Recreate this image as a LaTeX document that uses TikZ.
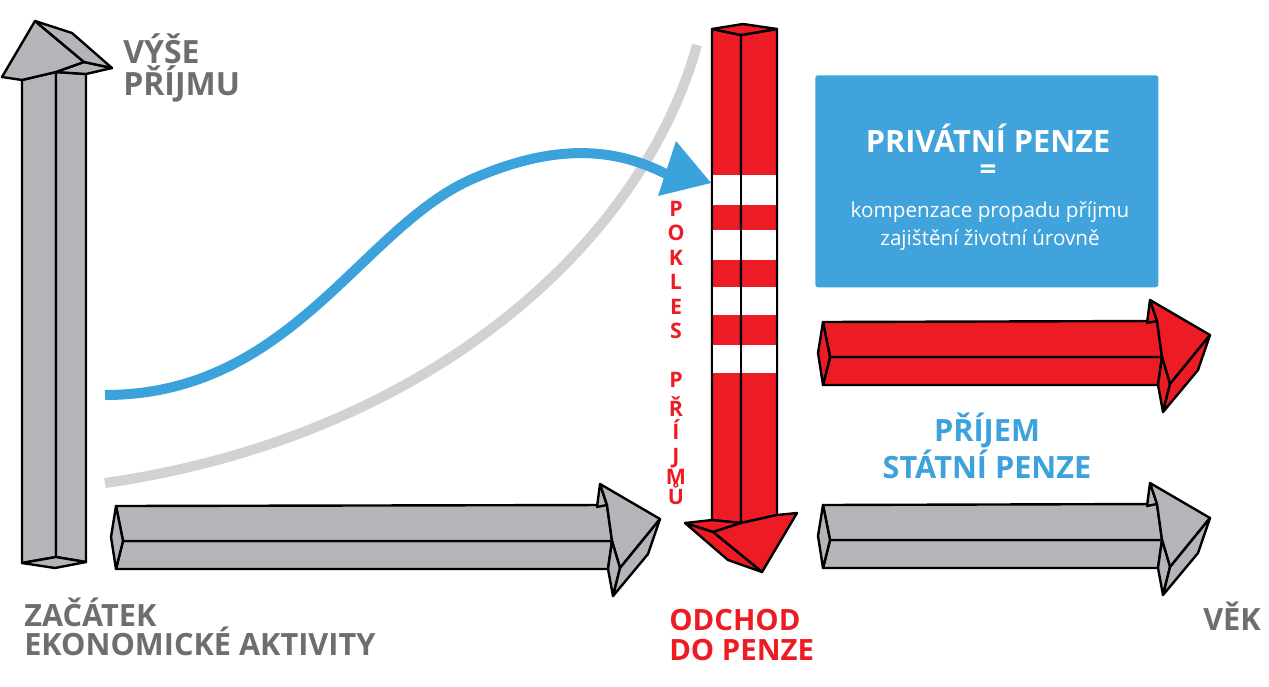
\documentclass[tikz,border=0pt]{standalone}
\usepackage{fontspec}
\setmainfont{Open Sans}
\definecolor{arrgray}{HTML}{B3B5B8}
\definecolor{myred}{HTML}{ED1C24}
\definecolor{myblue}{HTML}{3CA2DC}
\definecolor{boxblue}{HTML}{40A3DB}
\definecolor{txtgray}{HTML}{6D6E71}
\definecolor{curvegray}{HTML}{D1D2D4}
\newcommand\boxarrowR[4]{%
  \path[face=#4] (#1+12,#3+22) -- (#2-48,#3+22) -- (#2-52,#3+50) -- (#1+5,#3+50) -- cycle;
  \path[face=#4] (#1+5,#3-13) -- (#2-53,#3-14) -- (#2-48,#3+22) -- (#1+12,#3+22) -- cycle;
  \path[face=#4] (#1+5,#3-13) -- (#1,#3+18) -- (#1+5,#3+50) -- (#1+12,#3+22) -- cycle;
  \path[face=#4] (#2-63,#3-12) -- (#2-60,#3-35) -- (#2-53,#3-14) -- cycle;
  \path[face=#4] (#2-53,#3-14) -- (#2-60,#3-35) -- (#2,#3) -- (#2-40,#3+49) -- (#2-48,#3+22) -- cycle;
  \path[face=#4] (#2-48,#3+22) -- (#2-40,#3+49) -- (#2-47,#3+77) -- (#2-52,#3+50) -- cycle;
  \path[face=#4] (#2-40,#3+49) -- (#2,#3) -- (#2-12,#3+35) -- (#2-47,#3+77) -- cycle;
}
\begin{document}
\begin{tikzpicture}[x=0.75pt,y=-0.75pt,
  face/.style={fill=#1,draw=black,line width=1.8pt,line join=round},
  lblgray/.style={text=txtgray,font=\bfseries\fontsize{23}{21.75}\selectfont,inner sep=0pt,align=left},
  lblred/.style={text=myred,font=\bfseries\fontsize{22}{22.5}\selectfont,inner sep=0pt,align=left},
  lblblue/.style={text=myblue,font=\bfseries\fontsize{23}{22.5}\selectfont,inner sep=0pt,align=center},
  vlet/.style={text=myred,font=\bfseries\fontsize{16}{16}\selectfont,inner sep=0pt,anchor=base},
  boxtxt/.style={text=white,inner sep=0pt,anchor=base}]
\useasboundingbox[fill=white] (0,0) rectangle (1269,686);

% curves
\coordinate (g0) at (105,483);
\coordinate (g1) at (697,45);
\draw[curvegray,line width=7.5pt] (g0) .. controls (420,438) and (640,250) .. (g1);
\coordinate (b0) at (105,395);
\coordinate (bm) at (470,180);
\coordinate (b1) at (668,175);
\draw[myblue,line width=7.5pt] (b0) .. controls (290,395) and (360,230) .. (bm) .. controls (560,140) and (620,150) .. (b1);
\coordinate (btip) at (711,183);
\fill[myblue] (btip) -- (676,141) -- (658,196) -- cycle;

% vertical gray arrow
\path[face=arrgray] (22,80) -- (22,563) -- (56,557) -- (56,72) -- cycle;
\path[face=arrgray] (56,72) -- (56,557) -- (86,562) -- (86,74) -- cycle;
\path[face=arrgray] (22,563) -- (56,557) -- (86,562) -- (55,568) -- cycle;
\path[face=arrgray] (56,72) -- (84,62) -- (112,68) -- (86,74) -- cycle;
\path[face=arrgray] (35,21) -- (2,77) -- (22,80) -- (56,72) -- (84,62) -- cycle;
\path[face=arrgray] (35,21) -- (72,33) -- (112,68) -- (84,62) -- cycle;

% horizontal arrows
\boxarrowR{111}{660}{519}{arrgray}
\boxarrowR{818}{1210}{518}{arrgray}
\boxarrowR{818}{1210}{335}{myred}

% red down arrow
\path[face=myred] (712,29) -- (741,35) -- (741,523) -- (712,520) -- cycle;
\path[face=myred] (741,35) -- (777,29) -- (777,515) -- (741,523) -- cycle;
\fill[white] (713,175) rectangle (776,205);
\fill[white] (713,230) rectangle (776,260);
\fill[white] (713,287) rectangle (776,315);
\fill[white] (713,345) rectangle (776,373);
\draw[line width=1.8pt] (712,160) -- (712,390) (741,160) -- (741,390) (777,160) -- (777,390);
\path[face=myred] (712,29) -- (743,24) -- (777,29) -- (741,35) -- cycle;
\path[face=myred] (685,523) -- (712,520) -- (741,523) -- (713,532) -- cycle;
\path[face=myred] (713,532) -- (741,523) -- (777,515) -- (797,513) -- (762,572) -- cycle;
\path[face=myred] (685,523) -- (713,532) -- (762,572) -- (728,560) -- cycle;

% vertical text
\foreach \ch/\yy [count=\i] in {P/216,O/240.5,K/265,L/289.5,E/314,S/338.5,P/387,Ř/416,Í/439,J/463,M/484,Ů/504}
  \node[vlet] (v\i) at (676,\yy) {\ch};

% labels
\node[lblgray,anchor=base west,font=\bfseries\fontsize{24}{24}\selectfont] (ylab) at (123,95) {VÝŠE\\PŘÍJMU};
\node[lblgray,anchor=base west] (start) at (24,655) {ZAČÁTEK\\EKONOMICKÉ AKTIVITY};
\node[lblred,anchor=base west] (retire) at (669,660) {ODCHOD\\DO PENZE};
\node[lblgray,anchor=base west,font=\bfseries\fontsize{23}{23}\selectfont] (age) at (1203,630) {VĚK};
\node[lblblue,anchor=base] (state) at (987,478) {PŘÍJEM\\STÁTNÍ PENZE};

% box
\node[fill=boxblue,rounded corners=2pt,minimum width=257.25pt,minimum height=159pt,anchor=north west,inner sep=0pt] (box) at (815,75) {};
\node[boxtxt,font=\bfseries\fontsize{23}{23}\selectfont] (t1) at (988,152) {PRIVÁTNÍ PENZE};
\node[boxtxt,font=\bfseries\fontsize{22}{22}\selectfont,anchor=center] (t2) at (988,172) {=};
\node[boxtxt,font=\fontsize{15.5}{15.5}\selectfont] (t3) at (990,217) {kompenzace propadu příjmu};
\node[boxtxt,font=\fontsize{15.5}{15.5}\selectfont] (t4) at (990,245) {zajištění životní úrovně};
\end{tikzpicture}
\end{document}
